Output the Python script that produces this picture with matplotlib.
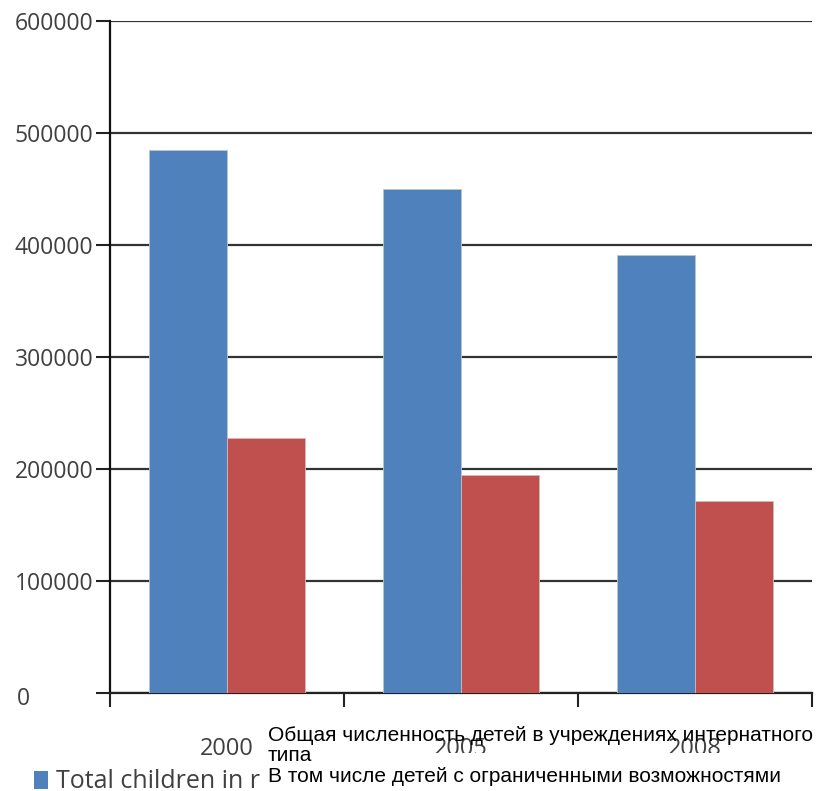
import matplotlib.pyplot as plt
from matplotlib.patches import Rectangle

years = ["2000", "2005", "2008"]
total_children = [485000, 450000, 391000]
disabled_children = [228000, 195000, 171000]
y_ticks = [0, 100000, 200000, 300000, 400000, 500000, 600000]
series_names = [
    "Общая численность детей в учреждениях интернатного\nтипа",
    "В том числе детей с ограниченными возможностями",
]
legend_stub = "Total children in r"

W, H = 817, 791
BLUE = "#4F81BD"
RED = "#C0504D"


def fx(px):
    return px / W


def fy(py):
    return 1 - py / H


fig = plt.figure(figsize=(W / 100, H / 100), dpi=100)
ax = fig.add_axes([fx(110), fy(693), fx(812) - fx(110), fy(21) - fy(693)])

x = range(len(years))
w = 1 / 3
ax.bar([i - w / 2 for i in x], total_children, width=w, color=BLUE,
       edgecolor="#b8c4d4", linewidth=0.6, zorder=3)
ax.bar([i + w / 2 for i in x], disabled_children, width=w, color=RED,
       edgecolor="#d4b8b8", linewidth=0.6, zorder=3)

ax.set_xlim(-0.5, len(years) - 0.5)
ax.set_ylim(0, 600000)
ax.set_yticks(y_ticks)
ax.set_yticklabels([""] + [str(v) for v in y_ticks[1:]],
                   fontfamily="Open Sans", fontsize=16.5, color="#404040")
ax.tick_params(axis="y", length=10, width=1.5, color="#222222", pad=2)
ax.set_xticks([i - 0.5 for i in range(len(years) + 1)])
ax.set_xticklabels([])
ax.tick_params(axis="x", length=10, width=1.5, color="#222222", direction="out")

ax.grid(axis="y", color="#333333", linewidth=1.6, zorder=1)
ax.set_axisbelow(True)
for side in ["top", "right"]:
    ax.spines[side].set_visible(False)
ax.spines["left"].set_linewidth(1.6)
ax.spines["bottom"].set_linewidth(1.6)
ax.spines["left"].set_color("#111111")
ax.spines["bottom"].set_color("#222222")

# zero label sits off to the left
fig.text(fx(17), fy(699), "0", fontfamily="Open Sans", fontsize=16.5,
         color="#404040", ha="left", va="center")

# category labels, partly covered by the legend block
for i, yr in enumerate(years):
    cx = 110 + (i + 0.5) * (812 - 110) / len(years)
    fig.text(fx(cx), fy(749), yr, fontfamily="Open Sans", fontsize=17,
             color="#404040", ha="center", va="center", zorder=1)

fig.add_artist(Rectangle((fx(253), 0), 1 - fx(253), fy(753), transform=fig.transFigure,
                         facecolor="white", edgecolor="none", zorder=2))
fig.add_artist(Rectangle((fx(253), fy(762)), fx(266) - fx(253), fy(736) - fy(762),
                         transform=fig.transFigure, facecolor="white", edgecolor="none", zorder=2))

fig.text(fx(268), fy(726), series_names[0], fontfamily="Liberation Sans", fontsize=15,
         color="black", ha="left", va="top", linespacing=1.05, zorder=3)
fig.text(fx(268), fy(777), series_names[1], fontfamily="Liberation Sans", fontsize=15,
         color="black", ha="left", va="center", zorder=3)

fig.add_artist(Rectangle((fx(34), fy(789)), fx(14), fy(771) - fy(789),
                         transform=fig.transFigure, facecolor=BLUE, edgecolor="none", zorder=3))
fig.text(fx(56), fy(782), legend_stub, fontfamily="Open Sans", fontsize=18,
         color="#404040", ha="left", va="center", zorder=3)

fig.savefig("out.png", dpi=100)
